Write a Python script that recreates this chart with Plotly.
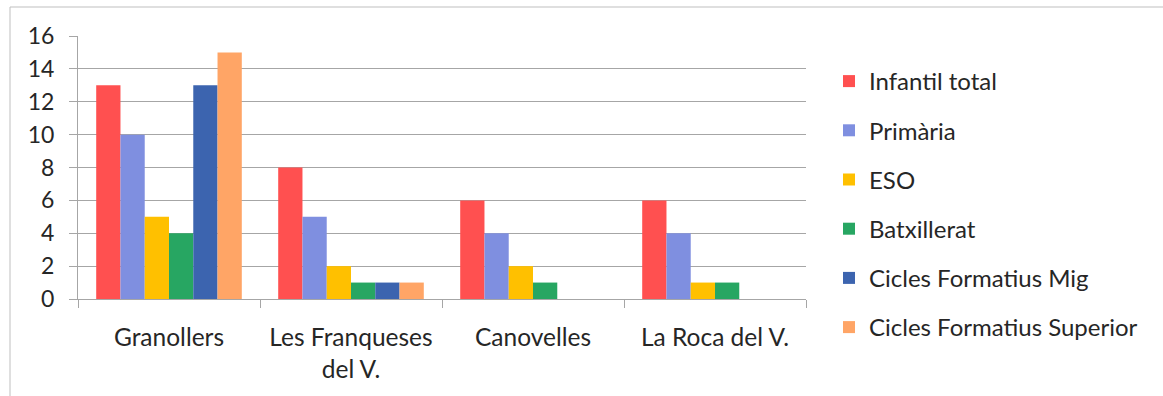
import plotly.graph_objects as go

categories = ["Granollers", "Les Franqueses<br>del V.", "Canovelles", "La Roca del V."]
series_names = ["Infantil total", "Primària", "ESO", "Batxillerat",
                "Cicles Formatius Mig", "Cicles Formatius Superior"]
infantil = [13, 8, 6, 6]
primaria = [10, 5, 4, 4]
eso = [5, 2, 2, 1]
batxillerat = [4, 1, 1, 1]
cf_mig = [13, 1, 0, 0]
cf_superior = [15, 1, 0, 0]
colors = ["#FF5050", "#7F8FE0", "#FFC000", "#27A662", "#3C64AF", "#FFA566"]
y_ticks = [0, 2, 4, 6, 8, 10, 12, 14, 16]

values = [infantil, primaria, eso, batxillerat, cf_mig, cf_superior]
font = "Lato, 'Open Sans', sans-serif"

fig = go.Figure()
for i, (name, vals, col) in enumerate(zip(series_names, values, colors)):
    fig.add_trace(go.Bar(x=categories, y=vals, name=name, marker_color=col,
                         marker_line_width=0, legendgroup=f"g{i}"))

W, H = 1163, 396
L, R, T, B = 78, 357, 36, 97
pw = W - L - R
ph = H - T - B

fig.update_layout(
    width=W, height=H,
    margin=dict(l=L, r=R, t=T, b=B),
    barmode="group", bargap=0.2, bargroupgap=0,
    plot_bgcolor="white", paper_bgcolor="white",
    font=dict(family=font, size=23, color="#262626"),
    legend=dict(x=(829 - L) / pw, y=1 - (59 - T) / ph, xanchor="left", yanchor="top",
                font=dict(size=24, color="#262626"), tracegroupgap=15,
                bgcolor="rgba(0,0,0,0)", maxheight=600),
    showlegend=True,
)
fig.update_yaxes(range=[0, 16], tickvals=y_ticks, showgrid=True, gridcolor="#A6A6A6",
                 gridwidth=1, showline=True, linecolor="#A6A6A6", ticks="outside",
                 ticklen=8, tickcolor="#A6A6A6", zeroline=False, ticklabelstandoff=10,
                 tickfont=dict(size=23, color="#262626"))
fig.update_xaxes(showline=True, linecolor="#A6A6A6", ticks="outside", ticklen=8,
                 tickcolor="#A6A6A6", tickson="boundaries", ticklabelstandoff=17,
                 tickfont=dict(size=24.5, color="#262626"))

# outer chart frame
fig.add_shape(type="rect", xref="paper", yref="paper",
              x0=(10 - L) / pw, x1=(1175 - L) / pw,
              y0=1 + (T - 410) / ph, y1=1 + (T - 7) / ph,
              line=dict(color="#BFBFBF", width=1), fillcolor="rgba(0,0,0,0)", layer="below")

fig.write_html("out.html", config={"displayModeBar": False},
               post_script="document.body.style.margin='0';")
